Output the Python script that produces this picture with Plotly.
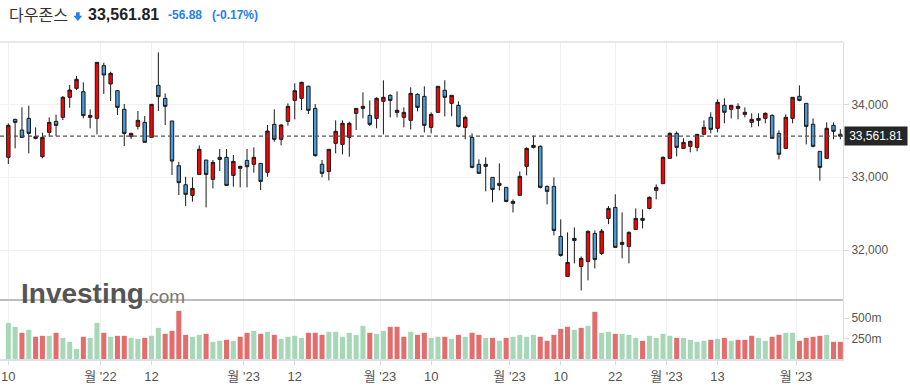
import plotly.graph_objects as go

# ---------------- data ----------------
opens = [33272, 33793, 33647, 33807, 33533, 33281, 33615, 33766, 33821, 34096,
         34219, 34173, 33821, 33807, 34530, 34279, 34187, 33931, 33560, 33697,
         33752, 33546, 34260, 34082, 33771, 33157, 32896, 32750, 33038, 33235,
         32970, 33272, 33272, 33024, 33121, 33230, 33176, 33189, 33066, 33725,
         33519, 33766, 34054, 34082, 34247, 33944, 33176, 33079, 33464, 33450,
         33546, 33876, 33944, 33848, 33807, 34041, 34123, 33889, 33821, 33780,
         34137, 34109, 33683, 33889, 34192, 34013, 33986, 33683, 33546, 33176,
         33176, 32997, 32915, 32860, 32640, 32750, 33148, 33409, 33423, 32873,
         32873, 32187, 31638, 32132, 31775, 31844, 32228, 31953, 32434, 32585,
         32077, 32050, 32283, 32434, 32571, 32819, 32910, 33258, 33601, 33395,
         33423, 33409, 33588, 33821, 33670, 33986, 33931, 33944, 33862, 33752,
         33780, 33807, 33848, 33601, 33395, 33807, 34109, 34013, 33725, 33354,
         33258, 33711, 33588]
highs = [33738, 33802, 33958, 33981, 33683, 33610, 33821, 33858, 34114, 34265,
         34388, 34301, 33931, 34576, 34571, 34448, 34196, 34004, 33610, 33908,
         33839, 33999, 34713, 34150, 33771, 33212, 33006, 32997, 33436, 33235,
         33235, 33386, 33386, 33304, 33157, 33386, 33409, 33189, 33716, 33931,
         33729, 34013, 34288, 34311, 34256, 34004, 33235, 33382, 33780, 33780,
         33761, 33944, 34164, 34054, 34096, 34329, 34137, 34178, 33958, 34233,
         34150, 34247, 33889, 34247, 34329, 34123, 34041, 33844, 33601, 33244,
         33272, 32997, 33189, 32860, 32695, 33079, 33409, 33569, 33436, 32887,
         32997, 32420, 32242, 32310, 31912, 32269, 32269, 32288, 32603, 32764,
         32517, 32256, 32571, 32558, 32736, 32901, 33285, 33615, 33629, 33533,
         33501, 33588, 33780, 33890, 34068, 34082, 33986, 34013, 33958, 33876,
         33876, 33890, 33862, 33643, 33862, 34096, 34260, 34013, 33807, 33354,
         33752, 33752, 33656]
lows = [33180, 33395, 33540, 33327, 33519, 33258, 33555, 33560, 33784, 33953,
        34196, 33807, 33670, 33587, 34141, 34045, 33853, 33427, 33523, 33656,
        33478, 33546, 33908, 33716, 33029, 32754, 32603, 32663, 33038, 32585,
        32846, 33084, 32887, 32869, 32860, 32860, 33061, 32823, 33006, 33487,
        33436, 33706, 33793, 33922, 33867, 33281, 32997, 32956, 33327, 33313,
        33281, 33647, 33807, 33702, 33670, 33587, 33821, 33821, 33683, 33656,
        33903, 33615, 33601, 33889, 33835, 33835, 33683, 33519, 33121, 33052,
        32805, 32654, 32818, 32654, 32516, 32750, 33024, 33395, 32846, 32626,
        32201, 31908, 31638, 31816, 31445, 31583, 31748, 31931, 32356, 32036,
        31885, 31816, 32283, 32297, 32558, 32695, 32910, 33258, 33285, 33395,
        33340, 33354, 33588, 33601, 33615, 33739, 33807, 33793, 33821, 33684,
        33697, 33739, 33533, 33244, 33395, 33739, 34041, 33450, 33409, 32951,
        33258, 33519, 33519]
closes = [33711, 33752, 33546, 33601, 33555, 33546, 33752, 33711, 34096, 34196,
          34343, 33844, 33848, 34576, 34402, 34425, 33958, 33601, 33601, 33780,
          33478, 33999, 34105, 33972, 33221, 32924, 32764, 32846, 33382, 33038,
          33203, 33244, 32887, 33217, 33148, 33143, 33272, 32942, 33633, 33519,
          33716, 33972, 34187, 34301, 33917, 33295, 33052, 33382, 33629, 33739,
          33739, 33944, 33972, 33725, 34082, 34096, 34054, 33917, 33889, 34150,
          33958, 33711, 33862, 34247, 34096, 34123, 33697, 33821, 33134, 33052,
          33148, 32832, 32887, 32667, 32667, 33011, 33395, 33436, 32860, 32805,
          32269, 31926, 31830, 32160, 31885, 32256, 31871, 32260, 32571, 32036,
          32105, 32242, 32434, 32407, 32723, 32860, 33272, 33601, 33409, 33478,
          33491, 33588, 33684, 33656, 34027, 33890, 33986, 33972, 33890, 33793,
          33807, 33876, 33533, 33313, 33821, 34096, 34054, 33697, 33423, 33134,
          33670, 33629, 33561.81]
volumes = [441, 393, 320, 356, 271, 283, 283, 320, 258, 210,
           124, 271, 258, 441, 320, 271, 283, 283, 258, 246,
           258, 283, 380, 307, 344, 588, 295, 271, 295, 307,
           210, 222, 234, 222, 271, 320, 344, 307, 332, 295,
           246, 271, 283, 258, 320, 320, 295, 332, 332, 271,
           320, 295, 405, 320, 307, 344, 393, 393, 271, 332,
           295, 320, 258, 271, 271, 246, 295, 271, 320, 295,
           258, 258, 222, 258, 271, 295, 271, 295, 271, 222,
           295, 368, 393, 356, 380, 405, 576, 320, 332, 307,
           307, 295, 258, 222, 283, 258, 307, 283, 258, 258,
           234, 210, 222, 234, 246, 258, 222, 234, 234, 283,
           258, 222, 271, 295, 320, 320, 222, 258, 271, 283,
           295, 210, 210]
# volume direction as drawn (1 = green, -1 = red)
vol_dir = [1, 1, -1, 1, -1, -1, 1, -1, 1, 1,
           1, -1, 1, 1, -1, 1, -1, -1, 1, 1,
           -1, 1, 1, -1, -1, -1, -1, 1, 1, -1,
           1, 1, -1, 1, -1, -1, 1, -1, 1, -1,
           1, 1, 1, 1, -1, -1, -1, 1, 1, 1,
           1, 1, 1, -1, 1, 1, -1, -1, -1, 1,
           -1, -1, 1, 1, -1, 1, -1, 1, -1, -1,
           1, -1, 1, -1, 1, 1, 1, 1, -1, -1,
           -1, -1, -1, 1, -1, 1, -1, 1, 1, -1,
           1, 1, 1, -1, 1, 1, 1, 1, -1, 1,
           1, 1, 1, -1, 1, -1, 1, -1, -1, -1,
           1, 1, -1, -1, 1, 1, -1, -1, -1, -1,
           1, -1, -1]
x_idx = list(range(len(closes)))

tick_vals = [0, 13.5, 21, 34.5, 42, 54.5, 62, 73.5, 81, 89, 96.5, 104, 115.5]
tick_text = ["10", "월 '22", "12", "월 '23", "12", "월 '23", "10", "월 '23",
             "10", "22", "월 '23", "13", "월 '23"]
price_ticks = [32000, 33000, 34000]
price_tick_text = ["32,000", "33,000", "34,000"]
vol_ticks = [250, 500]
vol_tick_text = ["250m", "500m"]

last_price = 33561.81
change_txt = "-56.88"
change_pct_txt = "(-0.17%)"
title_txt = "다우존스"

# ---------------- styling / geometry ----------------
W, H = 910, 389
ML, MR, MT, MB = 0, 67, 42, 30
PW, PH = W - ML - MR, H - MT - MB
SPLIT = (359 - 300) / PH  # volume pane fraction


def px(x):
    return (x - ML) / PW


def py(y):
    return (H - MB - y) / PH


FONT = "Liberation Sans, Arial, Noto Sans CJK KR, sans-serif"
UP_FILL = "#ff0000"
DOWN_FILL = "#4a9bd9"
VOL_G = "#a6d8b7"
VOL_R = "#e36d6d"

fig = go.Figure()
fig.add_trace(go.Candlestick(
    x=x_idx, open=opens, high=highs, low=lows, close=closes,
    increasing=dict(line=dict(color="#1a1a1a", width=1), fillcolor=UP_FILL),
    decreasing=dict(line=dict(color="#1a1a1a", width=1), fillcolor=DOWN_FILL),
    whiskerwidth=0, xaxis="x", yaxis="y", hoverinfo="skip", showlegend=False))

fig.add_trace(go.Bar(
    x=x_idx, y=volumes,
    marker=dict(color=[VOL_G if d > 0 else VOL_R for d in vol_dir], line=dict(width=0)),
    width=0.74, xaxis="x", yaxis="y2", hoverinfo="skip", showlegend=False))

shapes = [
    dict(type="line", xref="paper", yref="paper", x0=0, x1=1, y0=1, y1=1,
         line=dict(color="#cfcfcf", width=1)),
    dict(type="line", xref="paper", yref="paper", x0=0, x1=1, y0=SPLIT, y1=SPLIT,
         line=dict(color="#bdbdbd", width=2)),
    dict(type="line", xref="paper", yref="y", x0=0, x1=1, y0=last_price, y1=last_price,
         line=dict(color="#555555", width=1.2, dash="4px,3px")),
]
# header down arrow
arrow_pts = [(76, 12.3), (79.7, 12.3), (79.7, 15.8), (82.3, 15.8), (77.85, 21),
             (73.4, 15.8), (76, 15.8)]
path = "M " + " L ".join(f"{px(a):.5f},{py(b):.5f}" for a, b in arrow_pts) + " Z"
shapes.append(dict(type="path", xref="paper", yref="paper", path=path,
                   fillcolor="#2680eb", line=dict(width=0)))

annotations = [
    dict(text=title_txt, xref="paper", yref="paper", x=px(7), y=py(14),
         xanchor="left", yanchor="middle", showarrow=False,
         font=dict(family="Noto Sans CJK KR", size=16, color="#333333")),
    dict(text=f"<b>{last_price:,.2f}</b>", xref="paper", yref="paper", x=px(86), y=py(14),
         xanchor="left", yanchor="middle", showarrow=False,
         font=dict(family=FONT, size=16, color="#222222")),
    dict(text=f"<b>{change_txt}</b>", xref="paper", yref="paper", x=px(166), y=py(15),
         xanchor="left", yanchor="middle", showarrow=False,
         font=dict(family=FONT, size=12, color="#2680eb")),
    dict(text=f"<b>{change_pct_txt}</b>", xref="paper", yref="paper", x=px(210), y=py(15),
         xanchor="left", yanchor="middle", showarrow=False,
         font=dict(family=FONT, size=12, color="#2680eb")),
    dict(text="<b>Investing</b><span style='font-size:19px;color:#7a7a7a'>.com</span>",
         xref="paper", yref="paper", x=px(19), y=py(293),
         xanchor="left", yanchor="middle", showarrow=False,
         font=dict(family=FONT, size=28, color="#555555")),
    dict(text=f"{last_price:,.2f}", xref="paper", yref="y", x=1, y=last_price,
         xanchor="left", yanchor="middle", showarrow=False, xshift=1,
         bgcolor="#262626", borderpad=2, width=58,
         font=dict(family=FONT, size=12, color="#ffffff")),
]

fig.update_layout(
    template="none",
    width=W, height=H, autosize=False,
    margin=dict(l=ML, r=MR, t=MT, b=MB, pad=0),
    paper_bgcolor="white", plot_bgcolor="white",
    font=dict(family=FONT, color="#555555"),
    showlegend=False, hovermode=False,
    boxgap=0.28,
    xaxis=dict(range=[-1.22, 122.39], tickmode="array", tickvals=tick_vals, ticktext=tick_text,
               showgrid=True, gridcolor="#f1f1f1", gridwidth=1, zeroline=False,
               ticks="outside", ticklen=4, tickcolor="#d8dce2",
               showline=True, linecolor="#dde1e6", linewidth=2,
               tickfont=dict(size=13, color="#555555"), anchor="y2",
               rangeslider=dict(visible=False), automargin=False, fixedrange=True),
    yaxis=dict(domain=[SPLIT, 1], range=[31314, 34855], side="right",
               tickmode="array", tickvals=price_ticks, ticktext=price_tick_text,
               showgrid=True, gridcolor="#f1f1f1", zeroline=False,
               ticks="outside", ticklen=5, tickcolor="#d8dce2",
               showline=True, linecolor="#dde1e6", linewidth=1,
               tickfont=dict(size=12, color="#555555"), automargin=False),
    yaxis2=dict(domain=[0, SPLIT], range=[0, 720], side="right", anchor="x",
                tickmode="array", tickvals=vol_ticks, ticktext=vol_tick_text,
                showgrid=False, zeroline=False,
                ticks="outside", ticklen=5, tickcolor="#d8dce2",
                showline=True, linecolor="#dde1e6", linewidth=1,
                tickfont=dict(size=12, color="#555555"), automargin=False),
    shapes=shapes, annotations=annotations,
)

fig.write_html(
    "out.html",
    config={"displayModeBar": False, "staticPlot": True},
    post_script="document.body.style.margin='0';document.body.style.overflow='hidden';",
)
